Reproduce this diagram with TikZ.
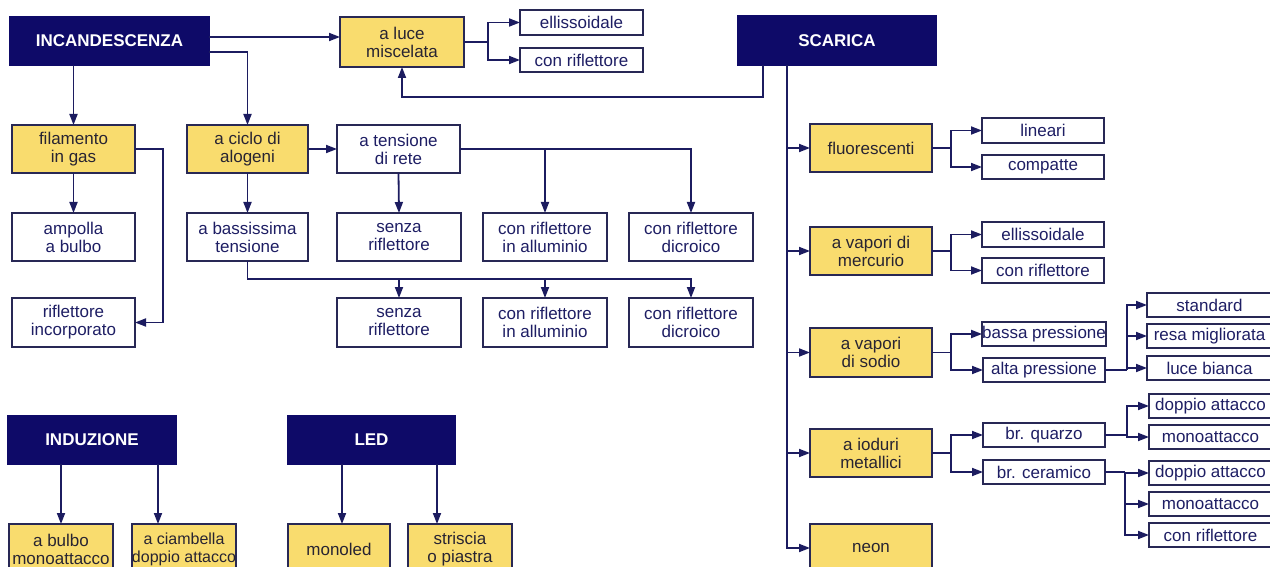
\documentclass[tikz,border=0pt]{standalone}
\usepackage{fontspec}
\setmainfont{Liberation Sans}
\usetikzlibrary{arrows.meta}
\definecolor{navy}{RGB}{14,10,104}
\definecolor{lincol}{RGB}{28,28,96}
\definecolor{yel}{RGB}{249,220,110}
\definecolor{bord}{RGB}{40,40,85}
\definecolor{ytext}{RGB}{40,36,50}
\definecolor{wtext}{RGB}{30,30,100}
\newcommand{\bx}[7]{\node[#2, minimum width={(#5-#3)*1pt}, minimum height={(#6-#4)*1pt}] (#1) at ({(#3+#5)/2},{(#4+#6)/2}) {#7};}
\newcommand{\fork}[3]{\draw[con] (#1.east) -- (#1.east-|#2,0); \foreach \t in {#3} {\draw[arr] (#1.east-|#2,0) |- (\t.west);}}
\begin{document}
\begin{tikzpicture}[x=1pt,y=-1pt,
 base/.style={inner sep=0pt, outer sep=0pt, align=center, font=\fontsize{17}{18}\selectfont, line width=1.8pt},
 head/.style={base, fill=navy, draw=navy, text=white, font=\fontsize{17}{19}\selectfont\bfseries},
 ybox/.style={base, fill=yel, draw=bord, text=ytext},
 wbox/.style={base, fill=white, draw=bord, text=wtext},
 con/.style={draw=lincol, line width=1.8pt},
 arr/.style={con, -{Triangle[length=11pt,width=8pt]}}]
\useasboundingbox (0,0) rectangle (1270,567);
\clip (0,0) rectangle (1270,567);
% incandescenza
\bx{inc}{head}{10}{17}{209}{65}{INCANDESCENZA}
\bx{luce}{ybox}{340}{17}{464}{67}{a luce\\miscelata}
\bx{ell1}{wbox}{520}{10}{643}{35}{ellissoidale}
\bx{cr1}{wbox}{520}{48}{643}{72}{con riflettore}
\bx{sca}{head}{738}{16}{936}{65}{SCARICA}
\bx{fil}{ybox}{12}{125}{135}{173}{filamento\\in gas}
\bx{alog}{ybox}{187}{125}{308}{173}{a ciclo di\\alogeni}
\bx{tens}{wbox}{337}{125}{460}{173}{a tensione\\di rete}
\bx{amp}{wbox}{12}{213}{135}{261}{ampolla\\a bulbo}
\bx{bass}{wbox}{187}{213}{308}{261}{a bassissima\\tensione}
\bx{sa}{wbox}{337}{213}{461}{261}{senza\\riflettore}
\bx{ala}{wbox}{483}{213}{607}{261}{con riflettore\\in alluminio}
\bx{dia}{wbox}{629}{213}{753}{261}{con riflettore\\dicroico}
\bx{rif}{wbox}{12}{298}{135}{347}{riflettore\\incorporato}
\bx{sb}{wbox}{337}{298}{461}{347}{senza\\riflettore}
\bx{alb}{wbox}{483}{298}{607}{347}{con riflettore\\in alluminio}
\bx{dib}{wbox}{629}{298}{753}{347}{con riflettore\\dicroico}
% scarica
\bx{fluo}{ybox}{810}{124}{932}{172}{fluorescenti}
\bx{lin}{wbox}{982}{118}{1104}{143}{lineari}
\bx{comp}{wbox}{982}{155}{1104}{179}{compatte}
\bx{merc}{ybox}{810}{227}{932}{275}{a vapori di\\mercurio}
\bx{ell2}{wbox}{982}{222}{1104}{247}{ellissoidale}
\bx{cr2}{wbox}{982}{258}{1104}{283}{con riflettore}
\bx{sod}{ybox}{810}{328}{932}{377}{a vapori\\di sodio}
\bx{bp}{wbox}{983}{322}{1105}{346}{bassa pressione}
\bx{ap}{wbox}{983}{358}{1105}{382}{alta pressione}
\bx{std}{wbox}{1147}{293}{1272}{317}{standard}
\bx{resa}{wbox}{1147}{324}{1272}{348}{resa migliorata}
\bx{lb}{wbox}{1147}{356}{1272}{380}{luce bianca}
\bx{iod}{ybox}{810}{429}{932}{477}{a ioduri\\metallici}
\bx{qz}{wbox}{983}{423}{1105}{447}{br. quarzo}
\bx{cer}{wbox}{983}{460}{1105}{484}{br. ceramico}
\bx{da1}{wbox}{1149}{394}{1272}{418}{doppio attacco}
\bx{ma1}{wbox}{1149}{425}{1272}{449}{monoattacco}
\bx{da2}{wbox}{1149}{461}{1272}{485}{doppio attacco}
\bx{ma2}{wbox}{1149}{492}{1272}{516}{monoattacco}
\bx{cr3}{wbox}{1149}{523}{1272}{547}{con riflettore}
\bx{neon}{ybox}{810}{524}{932}{572}{neon}
% induzione, led
\bx{ind}{head}{8}{416}{176}{464}{INDUZIONE}
\bx{led}{head}{288}{416}{455}{464}{LED}
\bx{bul}{ybox}{9}{524}{113}{575}{a bulbo\\monoattacco}
\bx{cia}{ybox, font=\fontsize{16}{18}\selectfont}{132}{524}{236}{575}{a ciambella\\doppio attacco}
\bx{mled}{ybox}{288}{524}{390}{575}{monoled}
\bx{stri}{ybox}{408}{524}{512}{575}{striscia\\o piastra}
% connectors incandescenza
\draw[arr] (inc.east|-0,37) -- (luce.west|-0,37);
\draw[arr] (inc.east|-0,52) -| (alog.north);
\draw[arr] (fil.north|-inc.south) -- (fil.north);
\fork{luce}{488}{ell1,cr1}
\draw[arr] (sca.south-|763,0) |- ([yshift=-30pt]luce.south) -- (luce.south);
\draw[arr] (fil.east) -- ++(28,0) |- (rif.east);
\draw[arr] (fil.south) -- (amp.north);
\draw[arr] (alog.east) -- (tens.west);
\draw[arr] (alog.south) -- (bass.north);
\draw[arr] (tens.south) -- (sa.north);
\draw[arr] (tens.east) -| (dia.north);
\draw[arr] (tens.east-|ala.north) -- (ala.north);
\coordinate (j2) at (bass.south|-0,279);
\draw[arr] (bass.south) |- (dib.north|-j2) -- (dib.north);
\draw[arr] (sb.north|-j2) -- (sb.north);
\draw[arr] (alb.north|-j2) -- (alb.north);
% scarica
\coordinate (t0) at (sca.south-|787,0);
\draw[arr] (t0) |- (neon.west);
\foreach \n in {fluo,merc,sod,iod} {\draw[arr] (\n.west-|t0) -- (\n.west);}
\fork{fluo}{951}{lin,comp}
\fork{merc}{951}{ell2,cr2}
\fork{sod}{951}{bp,ap}
\fork{ap}{1127}{std,resa,lb}
\fork{iod}{951}{qz,cer}
\fork{qz}{1127}{da1,ma1}
\fork{cer}{1125}{da2,ma2,cr3}
% induzione, led
\draw[arr] (bul.north|-ind.south) -- (bul.north);
\draw[arr] (ind.south-|158,0) -- (cia.north-|158,0);
\draw[arr] (led.south-|342,0) -- (mled.north-|342,0);
\draw[arr] (led.south-|437,0) -- (stri.north-|437,0);
\end{tikzpicture}
\end{document}
